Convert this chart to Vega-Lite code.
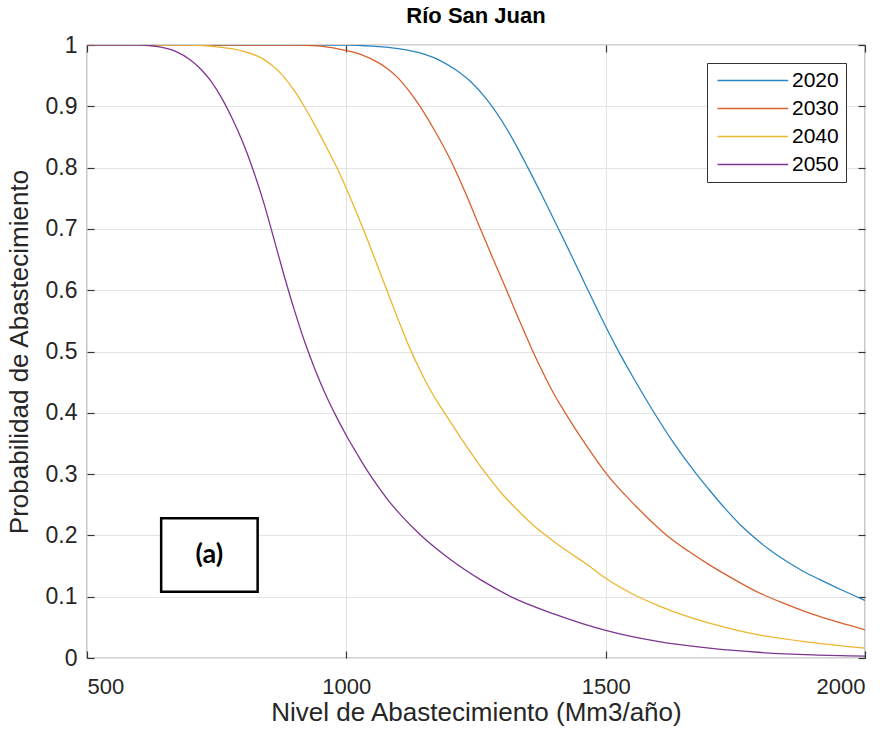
{
  "$schema": "https://vega.github.io/schema/vega-lite/v6.json",
  "autosize": "none",
  "width": 778,
  "height": 613,
  "padding": {"left": 87, "top": 45, "right": 27, "bottom": 73},
  "background": "white",
  "title": {"text": "Río San Juan", "fontSize": 22, "font": "Liberation Sans", "fontWeight": "bold", "color": "#000000", "offset": 6, "anchor": "middle"},
  "config": {
    "view": {"stroke": "#4d4d4d", "strokeWidth": 1.2},
    "font": "Liberation Sans",
    "axis": {"labelFont": "Liberation Sans", "titleFont": "Liberation Sans", "labelColor": "#262626", "titleColor": "#262626", "titleFontWeight": "normal", "gridColor": "#e3e3e3", "gridWidth": 1, "domain": false, "tickColor": "#333333", "tickSize": -7, "tickWidth": 1.2}
  },
  "datasets": {
    "curves": [
      {"x": 500, "p": 1, "year": "2020"}, {"x": 700, "p": 1, "year": "2020"}, {"x": 900, "p": 1, "year": "2020"}, {"x": 1000, "p": 1, "year": "2020"}, {"x": 1050, "p": 0.998, "year": "2020"}, {"x": 1100, "p": 0.994, "year": "2020"}, {"x": 1150, "p": 0.985, "year": "2020"}, {"x": 1180, "p": 0.975, "year": "2020"}, {"x": 1210, "p": 0.96, "year": "2020"}, {"x": 1240, "p": 0.94, "year": "2020"}, {"x": 1270, "p": 0.912, "year": "2020"}, {"x": 1300, "p": 0.876, "year": "2020"}, {"x": 1325, "p": 0.84, "year": "2020"}, {"x": 1350, "p": 0.8, "year": "2020"}, {"x": 1380, "p": 0.75, "year": "2020"}, {"x": 1408, "p": 0.702, "year": "2020"}, {"x": 1435, "p": 0.655, "year": "2020"}, {"x": 1462, "p": 0.607, "year": "2020"}, {"x": 1490, "p": 0.558, "year": "2020"}, {"x": 1520, "p": 0.508, "year": "2020"}, {"x": 1550, "p": 0.462, "year": "2020"}, {"x": 1590, "p": 0.405, "year": "2020"}, {"x": 1630, "p": 0.352, "year": "2020"}, {"x": 1675, "p": 0.3, "year": "2020"}, {"x": 1700, "p": 0.274, "year": "2020"}, {"x": 1730, "p": 0.244, "year": "2020"}, {"x": 1760, "p": 0.217, "year": "2020"}, {"x": 1790, "p": 0.194, "year": "2020"}, {"x": 1820, "p": 0.174, "year": "2020"}, {"x": 1850, "p": 0.157, "year": "2020"}, {"x": 1880, "p": 0.142, "year": "2020"}, {"x": 1910, "p": 0.129, "year": "2020"}, {"x": 1950, "p": 0.113, "year": "2020"}, {"x": 2000, "p": 0.094, "year": "2020"},
      {"x": 500, "p": 1, "year": "2030"}, {"x": 800, "p": 1, "year": "2030"}, {"x": 900, "p": 1, "year": "2030"}, {"x": 950, "p": 0.998, "year": "2030"}, {"x": 1000, "p": 0.991, "year": "2030"}, {"x": 1030, "p": 0.984, "year": "2030"}, {"x": 1060, "p": 0.972, "year": "2030"}, {"x": 1080, "p": 0.961, "year": "2030"}, {"x": 1100, "p": 0.946, "year": "2030"}, {"x": 1120, "p": 0.926, "year": "2030"}, {"x": 1142, "p": 0.9, "year": "2030"}, {"x": 1170, "p": 0.861, "year": "2030"}, {"x": 1200, "p": 0.814, "year": "2030"}, {"x": 1230, "p": 0.758, "year": "2030"}, {"x": 1256, "p": 0.705, "year": "2030"}, {"x": 1282, "p": 0.653, "year": "2030"}, {"x": 1308, "p": 0.602, "year": "2030"}, {"x": 1332, "p": 0.554, "year": "2030"}, {"x": 1356, "p": 0.507, "year": "2030"}, {"x": 1380, "p": 0.464, "year": "2030"}, {"x": 1400, "p": 0.431, "year": "2030"}, {"x": 1422, "p": 0.4, "year": "2030"}, {"x": 1460, "p": 0.35, "year": "2030"}, {"x": 1502, "p": 0.3, "year": "2030"}, {"x": 1558, "p": 0.248, "year": "2030"}, {"x": 1618, "p": 0.2, "year": "2030"}, {"x": 1660, "p": 0.174, "year": "2030"}, {"x": 1700, "p": 0.152, "year": "2030"}, {"x": 1740, "p": 0.132, "year": "2030"}, {"x": 1792, "p": 0.108, "year": "2030"}, {"x": 1850, "p": 0.087, "year": "2030"}, {"x": 1900, "p": 0.071, "year": "2030"}, {"x": 1950, "p": 0.058, "year": "2030"}, {"x": 2000, "p": 0.046, "year": "2030"},
      {"x": 500, "p": 1, "year": "2040"}, {"x": 700, "p": 1, "year": "2040"}, {"x": 750, "p": 0.997, "year": "2040"}, {"x": 800, "p": 0.99, "year": "2040"}, {"x": 840, "p": 0.977, "year": "2040"}, {"x": 870, "p": 0.957, "year": "2040"}, {"x": 900, "p": 0.925, "year": "2040"}, {"x": 920, "p": 0.898, "year": "2040"}, {"x": 940, "p": 0.868, "year": "2040"}, {"x": 960, "p": 0.836, "year": "2040"}, {"x": 980, "p": 0.803, "year": "2040"}, {"x": 1000, "p": 0.766, "year": "2040"}, {"x": 1020, "p": 0.726, "year": "2040"}, {"x": 1040, "p": 0.684, "year": "2040"}, {"x": 1060, "p": 0.64, "year": "2040"}, {"x": 1080, "p": 0.596, "year": "2040"}, {"x": 1100, "p": 0.552, "year": "2040"}, {"x": 1120, "p": 0.51, "year": "2040"}, {"x": 1140, "p": 0.473, "year": "2040"}, {"x": 1160, "p": 0.44, "year": "2040"}, {"x": 1180, "p": 0.412, "year": "2040"}, {"x": 1200, "p": 0.386, "year": "2040"}, {"x": 1220, "p": 0.36, "year": "2040"}, {"x": 1240, "p": 0.335, "year": "2040"}, {"x": 1260, "p": 0.311, "year": "2040"}, {"x": 1280, "p": 0.289, "year": "2040"}, {"x": 1300, "p": 0.268, "year": "2040"}, {"x": 1320, "p": 0.25, "year": "2040"}, {"x": 1340, "p": 0.233, "year": "2040"}, {"x": 1360, "p": 0.217, "year": "2040"}, {"x": 1380, "p": 0.203, "year": "2040"}, {"x": 1400, "p": 0.19, "year": "2040"}, {"x": 1430, "p": 0.172, "year": "2040"}, {"x": 1460, "p": 0.155, "year": "2040"}, {"x": 1500, "p": 0.13, "year": "2040"}, {"x": 1553, "p": 0.104, "year": "2040"}, {"x": 1600, "p": 0.086, "year": "2040"}, {"x": 1650, "p": 0.07, "year": "2040"}, {"x": 1700, "p": 0.057, "year": "2040"}, {"x": 1750, "p": 0.046, "year": "2040"}, {"x": 1800, "p": 0.037, "year": "2040"}, {"x": 1900, "p": 0.025, "year": "2040"}, {"x": 2000, "p": 0.016, "year": "2040"},
      {"x": 500, "p": 1, "year": "2050"}, {"x": 600, "p": 1, "year": "2050"}, {"x": 640, "p": 0.997, "year": "2050"}, {"x": 670, "p": 0.99, "year": "2050"}, {"x": 700, "p": 0.975, "year": "2050"}, {"x": 720, "p": 0.96, "year": "2050"}, {"x": 740, "p": 0.94, "year": "2050"}, {"x": 760, "p": 0.913, "year": "2050"}, {"x": 780, "p": 0.88, "year": "2050"}, {"x": 800, "p": 0.842, "year": "2050"}, {"x": 820, "p": 0.797, "year": "2050"}, {"x": 840, "p": 0.745, "year": "2050"}, {"x": 860, "p": 0.685, "year": "2050"}, {"x": 880, "p": 0.624, "year": "2050"}, {"x": 900, "p": 0.567, "year": "2050"}, {"x": 920, "p": 0.515, "year": "2050"}, {"x": 940, "p": 0.47, "year": "2050"}, {"x": 960, "p": 0.43, "year": "2050"}, {"x": 980, "p": 0.395, "year": "2050"}, {"x": 1000, "p": 0.363, "year": "2050"}, {"x": 1020, "p": 0.334, "year": "2050"}, {"x": 1040, "p": 0.306, "year": "2050"}, {"x": 1060, "p": 0.281, "year": "2050"}, {"x": 1080, "p": 0.258, "year": "2050"}, {"x": 1100, "p": 0.238, "year": "2050"}, {"x": 1140, "p": 0.203, "year": "2050"}, {"x": 1200, "p": 0.161, "year": "2050"}, {"x": 1260, "p": 0.127, "year": "2050"}, {"x": 1320, "p": 0.099, "year": "2050"}, {"x": 1400, "p": 0.072, "year": "2050"}, {"x": 1500, "p": 0.045, "year": "2050"}, {"x": 1600, "p": 0.027, "year": "2050"}, {"x": 1700, "p": 0.016, "year": "2050"}, {"x": 1800, "p": 0.009, "year": "2050"}, {"x": 1900, "p": 0.005, "year": "2050"}, {"x": 2000, "p": 0.003, "year": "2050"}
    ],
    "label": [{"x0": 643, "x1": 829, "y0": 0.108, "y1": 0.228, "xm": 736, "ym": 0.168, "t": "(a)"}]
  },
  "resolve": {"axis": {"x": "independent", "y": "independent"}},
  "layer": [
    {
      "data": {"name": "curves"},
      "mark": {"type": "line", "strokeWidth": 1.3, "clip": true, "interpolate": "monotone"},
      "encoding": {
        "x": {"field": "x", "type": "quantitative", "scale": {"domain": [500, 2000], "nice": false, "zero": false},
          "axis": {"orient": "bottom", "values": [500, 1000, 1500, 2000], "format": "d", "labelFontSize": 22, "labelPadding": 25, "title": "Nivel de Abastecimiento (Mm3/año)", "titleFontSize": 26, "titlePadding": 2, "grid": true}},
        "y": {"field": "p", "type": "quantitative", "scale": {"domain": [0, 1], "nice": false},
          "axis": {"orient": "left", "values": [0, 0.1, 0.2, 0.3, 0.4, 0.5, 0.6, 0.7, 0.8, 0.9, 1], "format": "~g", "labelFontSize": 23, "labelPadding": 17, "title": "Probabilidad de Abastecimiento", "titleFontSize": 26, "titlePadding": 13, "grid": true}},
        "color": {"field": "year", "type": "nominal",
          "scale": {"domain": ["2020", "2030", "2040", "2050"], "range": ["#2a86c0", "#d9602e", "#ecb62e", "#7e3690"]},
          "legend": {"title": null, "orient": "none", "legendX": 620, "legendY": 18, "symbolType": "M-1,0H9.1", "symbolSize": 196, "symbolStrokeWidth": 1.5, "labelOffset": 57, "labelFontSize": 21, "labelFont": "Liberation Sans", "labelColor": "#000000", "rowPadding": 6, "padding": 7, "strokeColor": "#333333", "fillColor": "#ffffff"}}
      }
    },
    {
      "data": {"name": "curves"},
      "mark": {"type": "point", "opacity": 0},
      "encoding": {
        "x": {"field": "x", "type": "quantitative", "scale": {"domain": [500, 2000], "nice": false, "zero": false},
          "axis": {"orient": "top", "values": [500, 1000, 1500, 2000], "labels": false, "title": null, "grid": false}},
        "y": {"field": "p", "type": "quantitative", "scale": {"domain": [0, 1], "nice": false},
          "axis": {"orient": "right", "values": [0, 0.1, 0.2, 0.3, 0.4, 0.5, 0.6, 0.7, 0.8, 0.9, 1], "labels": false, "title": null, "grid": false}}
      }
    },
    {
      "data": {"name": "label"},
      "mark": {"type": "rect", "fill": "white", "stroke": "#000000", "strokeWidth": 2.5},
      "encoding": {"x": {"field": "x0", "type": "quantitative", "axis": null}, "x2": {"field": "x1"}, "y": {"field": "y0", "type": "quantitative", "axis": null}, "y2": {"field": "y1"}}
    },
    {
      "data": {"name": "label"},
      "mark": {"type": "text", "font": "Lato", "fontWeight": "bold", "fontSize": 27, "color": "#000000", "align": "center", "baseline": "middle"},
      "encoding": {"x": {"field": "xm", "type": "quantitative", "axis": null}, "y": {"field": "ym", "type": "quantitative", "axis": null}, "text": {"field": "t"}}
    }
  ]
}
